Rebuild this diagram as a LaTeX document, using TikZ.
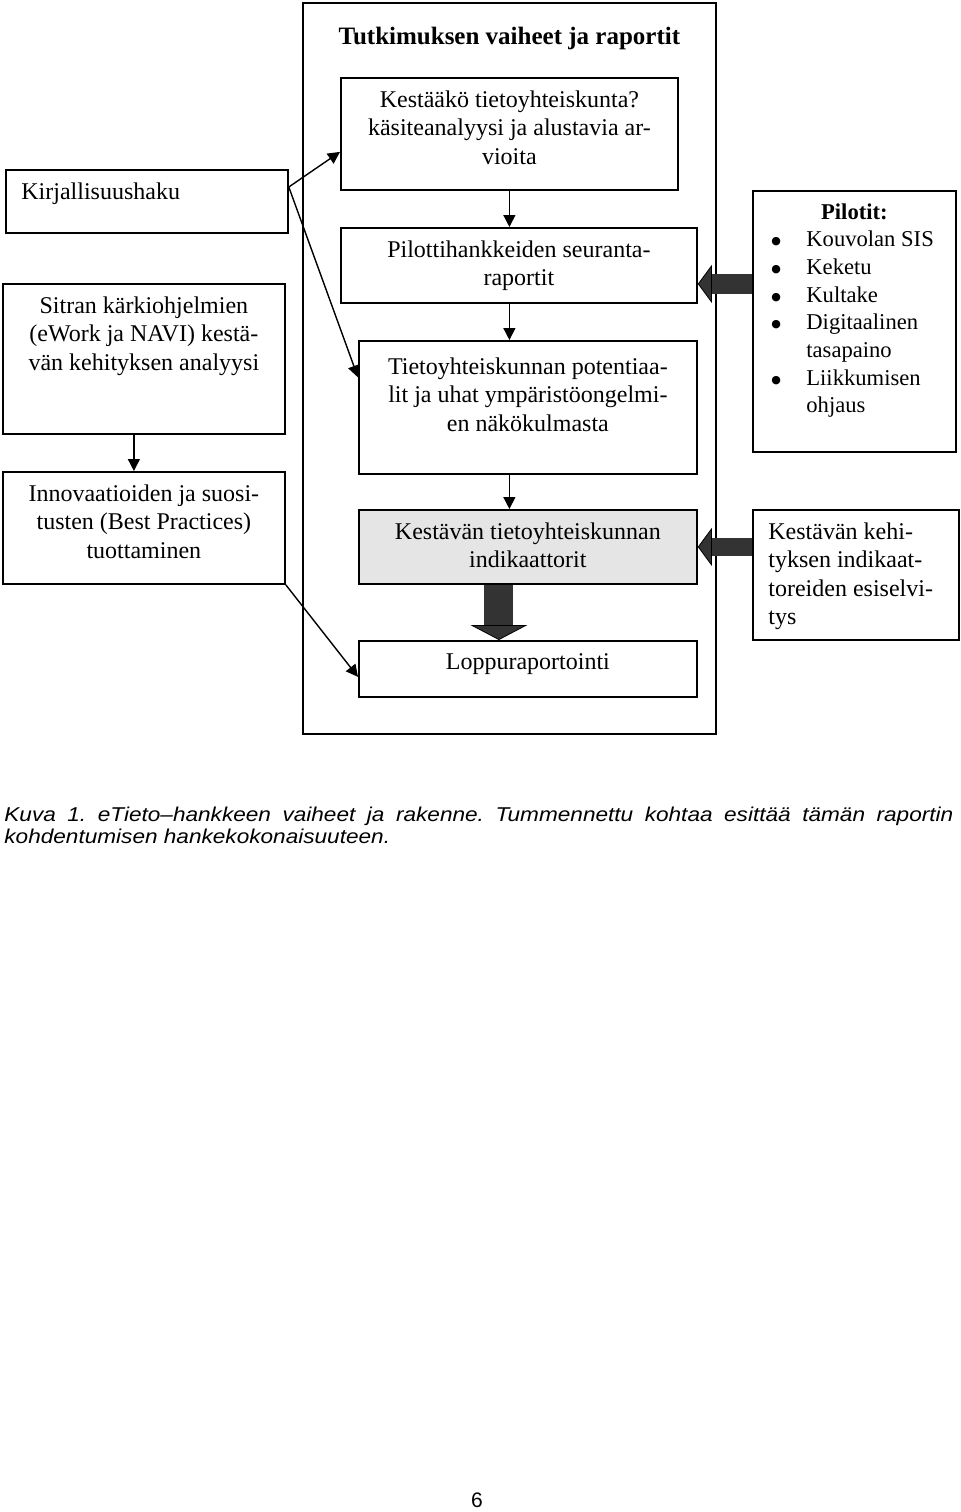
\documentclass[tikz,border=0pt]{standalone}
\usepackage{fontspec}
\setmainfont{Liberation Serif}
\setsansfont{Liberation Sans}
\newfontfamily\capfont[FakeStretch=1.13]{Liberation Sans}
\newfontfamily\dotfont{DejaVu Sans}
\usetikzlibrary{arrows.meta,calc}
\frenchspacing
\tikzset{
  stage/.style = {draw, line width=0.9pt, anchor=north west, inner sep=0pt},
  txt/.style = {align=center, inner sep=0pt, font=\fontsize{12}{14.2}\selectfont},
  toptext/.style = {txt, anchor=north, yshift=-6.75pt},
  lefttext/.style = {txt, align=left, anchor=north west, xshift=8pt, yshift=-6.75pt},
  listtext/.style = {txt, align=left, anchor=north west, font=\fontsize{11.3}{13.85}\selectfont, xshift=9pt, yshift=-20.3pt},
  arr/.style = {-{Triangle[length=6pt, width=6pt]}, line width=0.7pt},
  fatarr/.style = {draw=black!80, line width=#1},
  caption/.style = {anchor=north west, align=left, inner sep=0pt, font=\fontsize{10}{11}\selectfont\capfont\itshape}
}
\newcommand\pb{\makebox[18pt][l]{\hspace{0.5pt}\raisebox{1pt}{\fontsize{5.5}{6}\dotfont ●}}}

\begin{document}
\begin{tikzpicture}[x=0.5pt, y=-0.5pt]
	\useasboundingbox (0,0) rectangle (960,1512);
	% frame of the stages
	\node[stage, minimum width=206.5pt, minimum height=365.5pt,
		label={[txt, font=\bfseries\fontsize{12.5}{14}\selectfont, anchor=north, yshift=-12.5pt]north:Tutkimuksen vaiheet ja raportit}] (vaiheet) at (302,2) {};
	% middle column
	\node[stage, minimum width=168.5pt, minimum height=56pt,
		label={[toptext]north:{Kestääkö tietoyhteiskunta?\\käsiteanalyysi ja alustavia ar-\\vioita}}] (kestaako) at (340,77) {};
	\node[stage, minimum width=178pt, minimum height=37.5pt,
		label={[toptext]north:{Pilottihankkeiden seuranta-\\raportit}}] (pilotti) at (340,227) {};
	\node[stage, minimum width=169pt, minimum height=66.5pt,
		label={[toptext, yshift=-2pt]north:{Tietoyhteiskunnan potentiaa-\\lit ja uhat ympäristöongelmi-\\en näkökulmasta}}] (tieto) at (358,340) {};
	\node[stage, fill=black!10, minimum width=169pt, minimum height=37pt,
		label={[toptext]north:{Kestävän tietoyhteiskunnan\\indikaattorit}}] (indik) at (358,509) {};
	\node[stage, minimum width=169pt, minimum height=28pt,
		label={[toptext]north:Loppuraportointi}] (loppu) at (358,640) {};
	% left column
	\node[stage, minimum width=141pt, minimum height=31.5pt,
		label={[lefttext]north west:Kirjallisuushaku}] (kirj) at (5,169) {};
	\node[stage, minimum width=141pt, minimum height=75pt,
		label={[toptext]north:{Sitran kärkiohjelmien\\(eWork ja NAVI) kestä-\\vän kehityksen analyysi}}] (sitran) at (2,283) {};
	\node[stage, minimum width=141pt, minimum height=56pt,
		label={[toptext]north:{Innovaatioiden ja suosi-\\tusten (Best Practices)\\tuottaminen}}] (inno) at (2,471) {};
	% right column
	\node[stage, minimum width=101.5pt, minimum height=130.5pt,
		label={[txt, font=\bfseries\fontsize{11.3}{13.85}\selectfont, anchor=north, yshift=-6.5pt]north:Pilotit:},
		label={[listtext]north west:{\pb Kouvolan SIS\\\pb Keketu\\\pb Kultake\\\pb Digitaalinen\\\hspace*{18pt}tasapaino\\\pb Liikkumisen\\\hspace*{18pt}ohjaus}}] (pil) at (752,190) {};
	\node[stage, minimum width=103pt, minimum height=65pt,
		label={[lefttext]north west:{Kestävän kehi-\\tyksen indikaat-\\toreiden esiselvi-\\tys}}] (kest) at (752,509) {};

	% connectors
	\draw[arr] ([yshift=-9pt]kirj.north east) -- ([yshift=-9pt]kestaako.west);
	\draw[arr] ([yshift=-9pt]kirj.north east) -- ([yshift=15pt]tieto.west);
	\draw[arr] ([xshift=-5pt]sitran.south) -- ([xshift=-5pt]inno.north);
	\draw[arr] (inno.south east) -- ([yshift=-4pt]loppu.west);
	\draw[arr] (kestaako.south) -- (pilotti.north -| kestaako.south);
	\draw[arr] (pilotti.south -| kestaako.south) -- (tieto.north -| kestaako.south);
	\draw[arr] (tieto.south -| kestaako.south) -- (indik.north -| kestaako.south);
	\draw[fatarr=10pt, -{Triangle[length=7pt, width=19pt, line width=0.4pt, color=black, fill=black!80]}]
		([yshift=18.75pt]pil.west) -- ([yshift=-9.25pt]pilotti.east);
	\draw[fatarr=9pt, -{Triangle[length=7pt, width=19pt, line width=0.4pt, color=black, fill=black!80]}]
		([yshift=14pt]kest.west) -- (indik.east);
	\draw[fatarr=14.5pt, -{Triangle[length=7.5pt, width=28.5pt, line width=0.4pt, color=black, fill=black!80]}]
		([xshift=-14.5pt]indik.south) -- ([xshift=-14.5pt]loppu.north);

	% caption and page number
	\node[caption] (kuva) at (4,807) {\hbox to 474.5pt{Kuva 1. eTieto–hankkeen vaiheet ja rakenne. Tummennettu kohtaa esittää tämän raportin}\\kohdentumisen hankekokonaisuuteen.};
	\node[font=\fontsize{10.5}{12}\selectfont\sffamily] (sivu) at (477,1500) {6};
\end{tikzpicture}
\end{document}
